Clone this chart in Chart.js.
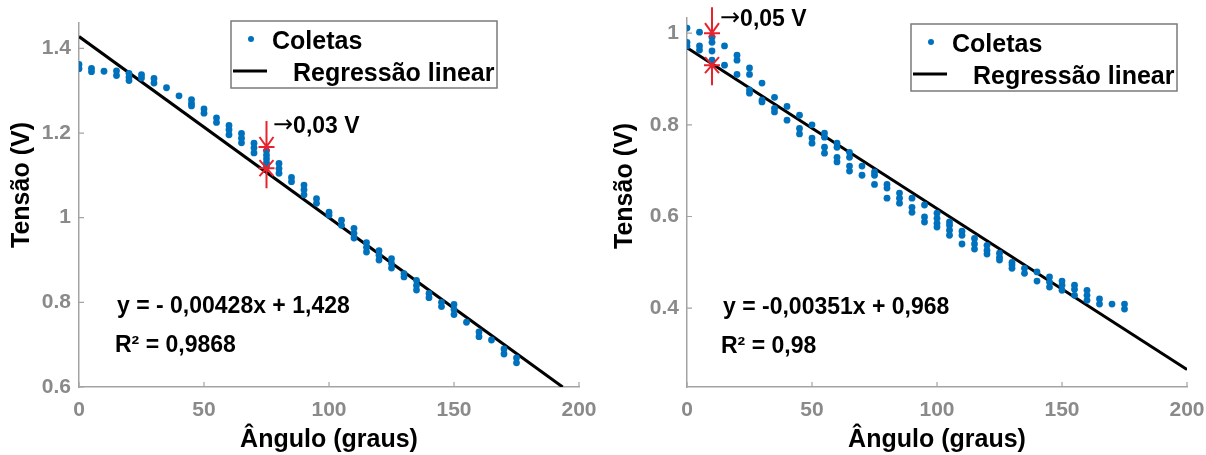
<!DOCTYPE html>
<html lang="pt-BR">
<head>
<meta charset="utf-8">
<title>Tensão x Ângulo</title>
<script src="https://cdn.jsdelivr.net/npm/chart.js@4.4.1/dist/chart.umd.min.js"></script>
<style>
  html, body { margin: 0; padding: 0; background: #fff; }
  .painel { position: absolute; top: 0; width: 603px; height: 455px; }
  #painelA { left: 0; }
  #painelB { left: 603px; }
</style>
</head>
<body>
<div class="painel" id="painelA"><canvas id="graficoA"></canvas></div>
<div class="painel" id="painelB"><canvas id="graficoB"></canvas></div>
<script>
// ---- dados: sensor A (esquerda) ----
const angulosA = [0, 5, 10, 15, 20, 25, 30, 35, 40, 45, 50, 55, 60, 65, 70, 75, 80, 85,
  90, 95, 100, 105, 110, 115, 120, 125, 130, 135, 140, 145, 150, 155, 160, 165, 170, 175];
const coletasA = [
  [1.362, 1.352], [1.353, 1.345], [1.346], [1.347, 1.336], [1.341, 1.332, 1.324],
  [1.338, 1.330], [1.329, 1.318], [1.307], [1.288], [1.279, 1.270, 1.264],
  [1.257, 1.247], [1.236, 1.225], [1.218, 1.208, 1.196], [1.199, 1.188, 1.177],
  [1.176, 1.165, 1.153], [1.158, 1.148, 1.139, 1.130, 1.121], [1.128, 1.116, 1.105],
  [1.095, 1.085], [1.077, 1.066, 1.054], [1.045, 1.034], [1.013, 1.006], [0.994, 0.982],
  [0.975, 0.963, 0.952], [0.941, 0.930, 0.919], [0.922, 0.911, 0.900], [0.903, 0.892, 0.881],
  [0.868, 0.860], [0.852, 0.840, 0.829], [0.821, 0.811], [0.800, 0.790],
  [0.795, 0.783, 0.771], [0.753], [0.730, 0.719], [0.711], [0.690, 0.678], [0.669, 0.657]
];
const retaA = [-0.00428, 1.428];          // inclinação, intercepto
const limitesYA = [0.6, 1.46];
const ticksYA = [0.6, 0.8, 1, 1.2, 1.4];
const equacaoA = ['y = - 0,00428x + 1,428', 'R² = 0,9868'];
const marcadorA = [75, 1.167, 1.117];     // ângulo, valor medido, valor da reta
const textoMarcadorA = ['→', '0,03 V'];

// ---- dados: sensor B (direita) ----
const angulosB = [0, 5, 10, 15, 20, 25, 30, 35, 40, 45, 50, 55, 60, 65, 70, 75, 80, 85,
  90, 95, 100, 105, 110, 115, 120, 125, 130, 135, 140, 145, 150, 155, 160, 165, 170, 175];
const coletasB = [
  [1.011, 0.980, 0.972], [1.002, 0.972, 0.963], [0.991, 0.980, 0.961, 0.941], [0.972, 0.930],
  [0.952, 0.941, 0.910], [0.924, 0.910, 0.876, 0.869], [0.891, 0.854, 0.850],
  [0.860, 0.836, 0.828], [0.840, 0.810], [0.821, 0.792, 0.780], [0.800, 0.771, 0.760],
  [0.782, 0.773, 0.751, 0.738], [0.760, 0.751, 0.729, 0.719], [0.740, 0.729, 0.710, 0.699],
  [0.710, 0.690], [0.697, 0.690, 0.670], [0.670, 0.662, 0.640], [0.651, 0.640, 0.629],
  [0.640, 0.620, 0.609], [0.625, 0.599, 0.588], [0.607, 0.596, 0.585, 0.577],
  [0.588, 0.581, 0.570, 0.559], [0.568, 0.559, 0.540], [0.552, 0.540, 0.529],
  [0.537, 0.526, 0.518], [0.520, 0.511, 0.505], [0.500, 0.494, 0.487], [0.487, 0.476],
  [0.479, 0.459], [0.468, 0.457, 0.446], [0.459, 0.450, 0.439], [0.450, 0.441, 0.428],
  [0.439, 0.428, 0.417], [0.420, 0.409], [0.409], [0.409, 0.398]
];
const retaB = [-0.00351, 0.968];
const limitesYB = [0.228, 1.033];
const ticksYB = [0.4, 0.6, 0.8, 1];
const equacaoB = ['y = -0,00351x + 0,968', 'R² = 0,98'];
const marcadorB = [10, 1.0, 0.93];
const textoMarcadorB = ['→', '0,05 V'];

// ---- eixo x comum ----
const limitesX = [0, 200];
const ticksX = [0, 50, 100, 150, 200];
const tituloX = 'Ângulo (graus)';
const tituloY = 'Tensão (V)';
const rotulosLegenda = ['Coletas', 'Regressão linear'];

const fonte = '"Liberation Sans", Arial, sans-serif';
const corPontos = '#0072BD';
const corEixo = '#a3a3a3';
const corVermelho = '#e8232d';

function pontosColetas(angulos, coletas) {
  const pts = [];
  angulos.forEach((a, i) => coletas[i].forEach(v => pts.push({ x: a, y: v })));
  return pts;
}

// reta de regressão de x = 0 até sair da área (borda direita ou inferior)
function pontosReta(reta, limY) {
  const [m, b] = reta;
  let xFim = limitesX[1];
  if (m * xFim + b < limY[0]) xFim = (limY[0] - b) / m;
  return [{ x: limitesX[0], y: b }, { x: xFim, y: m * xFim + b }];
}

function texto(ctx, str, x, y, tamanho, cor, alinhar, base) {
  ctx.font = 'bold ' + tamanho + 'px ' + fonte;
  ctx.fillStyle = cor;
  ctx.textAlign = alinhar || 'left';
  ctx.textBaseline = base || 'alphabetic';
  ctx.fillText(str, x, y);
}

function decoracao(cfg, equacao, marcador, textoMarcador) {
  return {
    id: 'decoracao',
    afterDraw(chart) {
      const { ctx, chartArea: area, scales: { x, y } } = chart;
      ctx.save();

      // marcas dos ticks para dentro
      ctx.strokeStyle = corEixo;
      ctx.lineWidth = 1.2;
      ctx.beginPath();
      x.ticks.forEach(t => {
        const px = x.getPixelForValue(t.value);
        ctx.moveTo(px, area.bottom); ctx.lineTo(px, area.bottom - 5);
      });
      y.ticks.forEach(t => {
        const py = y.getPixelForValue(t.value);
        ctx.moveTo(area.left, py); ctx.lineTo(area.left + 5, py);
      });
      ctx.stroke();

      // títulos dos eixos
      texto(ctx, tituloX, (area.left + area.right) / 2, cfg.tituloXy, 25, '#000', 'center', 'middle');
      ctx.save();
      ctx.translate(cfg.tituloY[0], cfg.tituloY[1]);
      ctx.rotate(-Math.PI / 2);
      texto(ctx, tituloY, 0, 0, 25, '#000', 'center', 'middle');
      ctx.restore();

      // legenda
      const [lx, ly, lw, lh] = cfg.legenda;
      ctx.fillStyle = '#fff';
      ctx.fillRect(lx, ly, lw, lh);
      ctx.strokeStyle = '#7a7a7a';
      ctx.lineWidth = 1.5;
      ctx.strokeRect(lx, ly, lw, lh);
      const ds = chart.data.datasets;
      ctx.fillStyle = ds[0].backgroundColor;
      ctx.beginPath();
      ctx.arc(lx + 20, ly + 18, 3, 0, Math.PI * 2);
      ctx.fill();
      texto(ctx, ds[0].label, lx + 41, ly + 28, 25, '#000');
      ctx.strokeStyle = ds[1].borderColor;
      ctx.lineWidth = 3;
      ctx.beginPath();
      ctx.moveTo(lx + 2, ly + 50); ctx.lineTo(lx + 36, ly + 50);
      ctx.stroke();
      texto(ctx, ds[1].label, lx + 62, ly + 60, 25, '#000');

      // equação da reta
      texto(ctx, equacao[0], cfg.equacao[0], cfg.equacao[1], 23, '#000');
      texto(ctx, equacao[1], cfg.equacao[0] - 2, cfg.equacao[1] + 39, 23, '#000');

      // marcador de desvio
      const mx = x.getPixelForValue(marcador[0]);
      const ySup = y.getPixelForValue(marcador[1]);
      const yInf = y.getPixelForValue(marcador[2]);
      ctx.strokeStyle = corVermelho;
      ctx.lineWidth = 2;
      ctx.beginPath();
      ctx.moveTo(mx, ySup - 26); ctx.lineTo(mx, ySup);
      ctx.moveTo(mx - 8, ySup); ctx.lineTo(mx + 8, ySup);
      ctx.moveTo(mx - 7, ySup - 10); ctx.lineTo(mx + 3, ySup + 4);
      ctx.moveTo(mx + 7, ySup - 10); ctx.lineTo(mx - 3, ySup + 4);
      ctx.moveTo(mx, yInf); ctx.lineTo(mx, yInf + 20);
      ctx.moveTo(mx - 8, yInf); ctx.lineTo(mx + 8, yInf);
      ctx.moveTo(mx - 7, yInf + 8); ctx.lineTo(mx + 7, yInf - 8);
      ctx.moveTo(mx + 7, yInf + 8); ctx.lineTo(mx - 7, yInf - 8);
      ctx.stroke();

      // seta + valor do desvio
      ctx.font = '24px "DejaVu Sans", sans-serif';
      ctx.fillStyle = '#000';
      ctx.textAlign = 'left';
      ctx.textBaseline = 'alphabetic';
      ctx.fillText(textoMarcador[0], cfg.seta[0] - 2, cfg.seta[1] - 1);
      const largSeta = ctx.measureText(textoMarcador[0]).width;
      texto(ctx, textoMarcador[1], cfg.seta[0] - 2 + largSeta, cfg.seta[1], 23, '#000');

      ctx.restore();
    }
  };
}

function criarGrafico(id, pontos, reta, limY, ticksY, cfg, equacao, marcador, textoMarcador) {
  const fonteTicks = { family: fonte, size: 21, weight: 'bold' };
  return new Chart(document.getElementById(id), {
    type: 'scatter',
    data: {
      datasets: [{
        label: rotulosLegenda[0],
        data: pontos,
        backgroundColor: corPontos,
        borderColor: corPontos,
        pointRadius: 3.4,
        pointBorderWidth: 0
      }, {
        label: rotulosLegenda[1],
        data: reta,
        showLine: true,
        borderColor: '#000',
        backgroundColor: '#000',
        borderWidth: 3,
        pointRadius: 0
      }]
    },
    options: {
      responsive: true,
      maintainAspectRatio: false,
      animation: false,
      layout: { padding: cfg.padding },
      plugins: { legend: { display: false }, tooltip: { enabled: false } },
      scales: {
        x: {
          type: 'linear', min: limitesX[0], max: limitesX[1],
          // área fixa: o rótulo "200" pode ultrapassar a borda
          afterFit: s => { s.height = cfg.alturaX; s.paddingLeft = 0; s.paddingRight = 0; },
          afterBuildTicks: s => { s.ticks = ticksX.map(v => ({ value: v })); },
          grid: { display: false, drawTicks: false },
          border: { color: corEixo, width: 1.5 },
          ticks: { color: '#8a8a8a', font: fonteTicks, padding: 11, maxRotation: 0,
            callback: v => String(v) }
        },
        y: {
          type: 'linear', min: limY[0], max: limY[1],
          afterFit: s => { s.width = cfg.larguraY; s.paddingTop = 0; s.paddingBottom = 0; },
          afterBuildTicks: s => { s.ticks = ticksY.map(v => ({ value: v })); },
          grid: { display: false, drawTicks: false },
          border: { color: corEixo, width: 1.5 },
          ticks: { color: '#8a8a8a', font: fonteTicks, padding: 8,
            callback: v => String(v) }
        }
      }
    },
    plugins: [decoracao(cfg, equacao, marcador, textoMarcador)]
  });
}

criarGrafico('graficoA', pontosColetas(angulosA, coletasA), pontosReta(retaA, limitesYA),
  limitesYA, ticksYA, {
    padding: { top: 23, right: 24, left: 0, bottom: 0 },
    larguraY: 79, alturaX: 68,
    tituloXy: 440, tituloY: [22, 185],
    legenda: [231, 21, 266, 67],
    equacao: [117, 313],
    seta: [275, 133]
  }, equacaoA, marcadorA, textoMarcadorA);

criarGrafico('graficoB', pontosColetas(angulosB, coletasB), pontosReta(retaB, limitesYB),
  limitesYB, ticksYB, {
    padding: { top: 18, right: 19, left: 0, bottom: 0 },
    larguraY: 84, alturaX: 68,
    tituloXy: 440, tituloY: [22, 186],
    legenda: [308, 24, 266, 67],
    equacao: [120, 314],
    seta: [119, 26]
  }, equacaoB, marcadorB, textoMarcadorB);
</script>
</body>
</html>
